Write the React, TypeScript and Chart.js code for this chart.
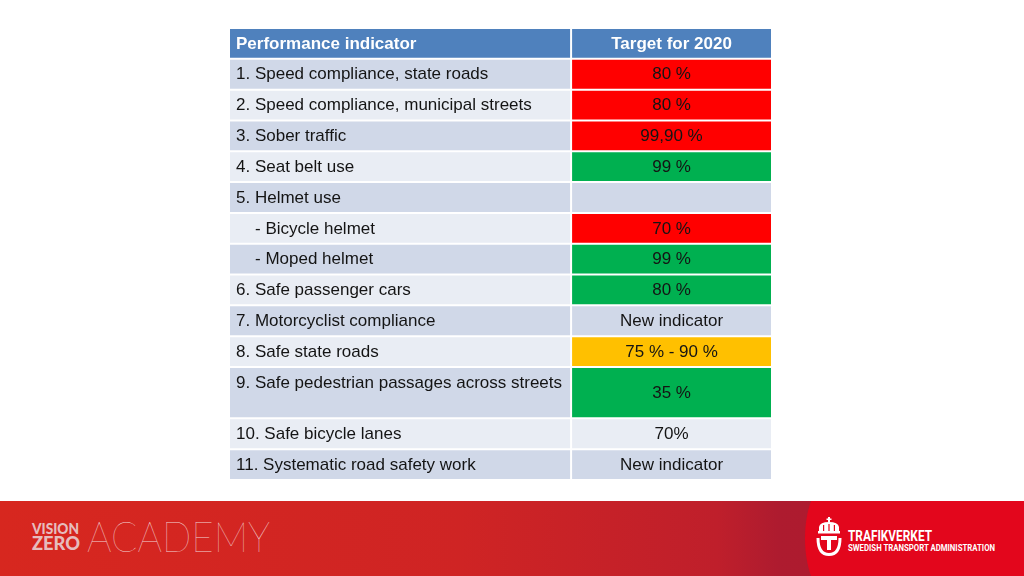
import React, { useEffect, useRef } from "react";
import { Chart, registerables } from "chart.js";

Chart.register(...registerables);

// ---------- data ----------
const headers = ["Performance indicator", "Target for 2020"];

const indicators = [
  "1. Speed compliance, state roads",
  "2. Speed compliance, municipal streets",
  "3. Sober traffic",
  "4. Seat belt use",
  "5. Helmet use",
  "- Bicycle helmet",
  "- Moped helmet",
  "6. Safe passenger cars",
  "7. Motorcyclist compliance",
  "8. Safe state roads",
  "9. Safe pedestrian passages across streets",
  "10. Safe bicycle lanes",
  "11. Systematic road safety work",
];

const indentLevels = [0, 0, 0, 0, 0, 1, 1, 0, 0, 0, 0, 0, 0];

const targets = [
  "80 %",
  "80 %",
  "99,90 %",
  "99 %",
  "",
  "70 %",
  "99 %",
  "80 %",
  "New indicator",
  "75 % - 90 %",
  "35 %",
  "70%",
  "New indicator",
];

const targetStatus = [
  "red",
  "red",
  "red",
  "green",
  "none",
  "red",
  "green",
  "green",
  "none",
  "yellow",
  "green",
  "none",
  "none",
];

// row heights in grid units (row 9 is taller)
const headerSpan = 3;
const rowSpans = [3, 3, 3, 3, 3, 3, 3, 3, 3, 3, 5, 3, 3];
// column boundaries on the value axis (percent of table width)
const columnEdges = [0, 63, 100];

// ---------- styling ----------
const COLORS: Record<string, string> = {
  header: "#4F81BD",
  band1: "#D0D8E8",
  band2: "#E9EDF4",
  red: "#FF0000",
  green: "#00B050",
  yellow: "#FFC000",
};
const FONT = '"Liberation Sans", Arial, Helvetica, sans-serif';

// ---------- derived structures ----------
const spans = [headerSpan, ...rowSpans];
const unitLabels: string[] = [];
const rowCenters: number[] = [];
spans.forEach((s, r) => {
  const start = unitLabels.length;
  for (let k = 0; k < s; k++) unitLabels.push(`r${r}u${k}`);
  rowCenters.push(start + Math.floor(s / 2));
});
const distinctSpans = Array.from(new Set(spans));

function cellColor(r: number, c: number): string {
  if (r === 0) return COLORS.header;
  const i = r - 1;
  const st = targetStatus[i];
  if (c === 1 && st !== "none") return COLORS[st];
  return i % 2 === 0 ? COLORS.band1 : COLORS.band2;
}

const dsKey: Record<string, number> = {};
const datasets: any[] = [];
distinctSpans.forEach((s) => {
  [0, 1].forEach((c) => {
    dsKey[`${s}-${c}`] = datasets.length;
    datasets.push({
      label: `col${c}-span${s}`,
      data: unitLabels.map((_, u) => {
        const r = rowCenters.indexOf(u);
        return r >= 0 && spans[r] === s ? [columnEdges[c], columnEdges[c + 1]] : null;
      }),
      backgroundColor: unitLabels.map((_, u) => {
        const r = rowCenters.indexOf(u);
        return r >= 0 ? cellColor(r, c) : "rgba(0,0,0,0)";
      }),
      borderColor: "#FFFFFF",
      borderWidth: 1,
      borderSkipped: false,
      barPercentage: s,
      categoryPercentage: 1,
      grouped: false,
    });
  });
});

const tableTextPlugin = {
  id: "tableText",
  afterDatasetsDraw(chart: any) {
    const ctx = chart.ctx as CanvasRenderingContext2D;
    ctx.save();
    ctx.textBaseline = "middle";
    spans.forEach((s, r) => {
      const u = rowCenters[r];
      const L = chart.getDatasetMeta(dsKey[`${s}-0`]).data[u].getProps(["x", "y", "base", "height"], true);
      const R = chart.getDatasetMeta(dsKey[`${s}-1`]).data[u].getProps(["x", "y", "base", "height"], true);
      const top = L.y - L.height / 2;
      const unitPx = L.height / s;
      const firstLineY = top + (unitPx * headerSpan) / 2 + 0.5;
      const isHeader = r === 0;
      ctx.fillStyle = isHeader ? "#FFFFFF" : "#141414";
      ctx.font = `${isHeader ? "bold " : ""}17px ${FONT}`;
      ctx.textAlign = "left";
      const text = isHeader ? headers[0] : indicators[r - 1];
      const indent = isHeader ? 0 : indentLevels[r - 1];
      ctx.fillText(text, Math.min(L.x, L.base) + 7 + indent * 19, firstLineY);
      ctx.textAlign = "center";
      ctx.fillText(isHeader ? headers[1] : targets[r - 1], (R.x + R.base) / 2, R.y + 0.5);
    });
    ctx.restore();
  },
};

function Banner() {
  return (
    <svg
      width={1024}
      height={75}
      style={{ position: "absolute", left: 0, top: 501, display: "block" }}
    >
      <defs>
        <linearGradient id="bg" x1="0" y1="0" x2="1024" y2="0" gradientUnits="userSpaceOnUse">
          <stop offset="0" stopColor="#D7271F" />
          <stop offset="0.45" stopColor="#CF2424" />
          <stop offset="0.7" stopColor="#BF1F2B" />
          <stop offset="0.76" stopColor="#AE1B2F" />
          <stop offset="1" stopColor="#A8192F" />
        </linearGradient>
      </defs>
      <rect x={0} y={0} width={1024} height={75} fill="url(#bg)" />
      <path d="M811,0 C803,22 803,53 811,75 L1024,75 L1024,0 Z" fill="#E3061C" />
      {/* Vision Zero Academy */}
      <text x={32} y={33} fontFamily="Lato, 'Open Sans', sans-serif" fontWeight={900} fontSize={15} fill="#E6BCBD" textLength={47} lengthAdjust="spacingAndGlyphs">VISION</text>
      <text x={32} y={49} fontFamily="Lato, 'Open Sans', sans-serif" fontWeight={900} fontSize={18} fill="#E6BCBD" textLength={48} lengthAdjust="spacingAndGlyphs">ZERO</text>
      <text x={87} y={51} fontFamily="Lato, 'Open Sans', sans-serif" fontWeight={100} fontSize={41} fill="#F2D2D2" textLength={183} lengthAdjust="spacingAndGlyphs">ACADEMY</text>
      {/* Trafikverket emblem */}
      <g fill="#FFFFFF">
        <rect x={828} y={16} width={2} height={5} />
        <rect x={826.5} y={17.5} width={5} height={1.5} />
        <path d="M819,30 L819,26 Q820,21 829,21 Q838,21 839,26 L839,30 Z" />
        <rect x={818} y={30} width={22} height={2.5} />
        <rect x={821} y={35} width={16} height={4} />
        <rect x={827} y={35} width={4} height={14} />
        <path d="M816.5,37 Q816.5,55 829,55 Q841.5,55 841.5,37 L838.5,37 Q838.5,52 829,52 Q819.5,52 819.5,37 Z" />
      </g>
      <g fill="#E3061C">
        <rect x={823} y={24} width={1.2} height={6} />
        <rect x={828.4} y={23} width={1.2} height={7} />
        <rect x={833.8} y={24} width={1.2} height={6} />
      </g>
      <text x={848} y={40} fontFamily="Roboto, 'Liberation Sans', sans-serif" fontWeight={700} fontSize={15} fill="#FFFFFF" textLength={84} lengthAdjust="spacingAndGlyphs">TRAFIKVERKET</text>
      <text x={848} y={49.5} fontFamily="Roboto, 'Liberation Sans', sans-serif" fontWeight={700} fontSize={9.5} fill="#FFFFFF" textLength={147} lengthAdjust="spacingAndGlyphs">SWEDISH TRANSPORT ADMINISTRATION</text>
    </svg>
  );
}

export default function App() {
  const canvasRef = useRef<HTMLCanvasElement>(null);

  useEffect(() => {
    if (!canvasRef.current) return;
    const chart = new Chart(canvasRef.current, {
      type: "bar",
      data: { labels: unitLabels, datasets },
      options: {
        indexAxis: "y",
        responsive: false,
        maintainAspectRatio: false,
        animation: false,
        layout: { padding: { left: 229, right: 252, top: 28, bottom: 96 } },
        scales: {
          x: { type: "linear", min: 0, max: 100, display: false },
          y: { type: "category", display: false, offset: true },
        },
        plugins: {
          legend: { display: false },
          tooltip: { enabled: false },
          title: { display: false },
        },
      },
      plugins: [tableTextPlugin],
    } as any);
    return () => chart.destroy();
  }, []);

  return (
    <div
      style={{
        position: "absolute",
        left: 0,
        top: 0,
        width: 1024,
        height: 576,
        background: "#FFFFFF",
        overflow: "hidden",
      }}
    >
      <canvas
        ref={canvasRef}
        width={1024}
        height={576}
        style={{ position: "absolute", left: 0, top: 0, width: 1024, height: 576 }}
      />
      <Banner />
    </div>
  );
}
